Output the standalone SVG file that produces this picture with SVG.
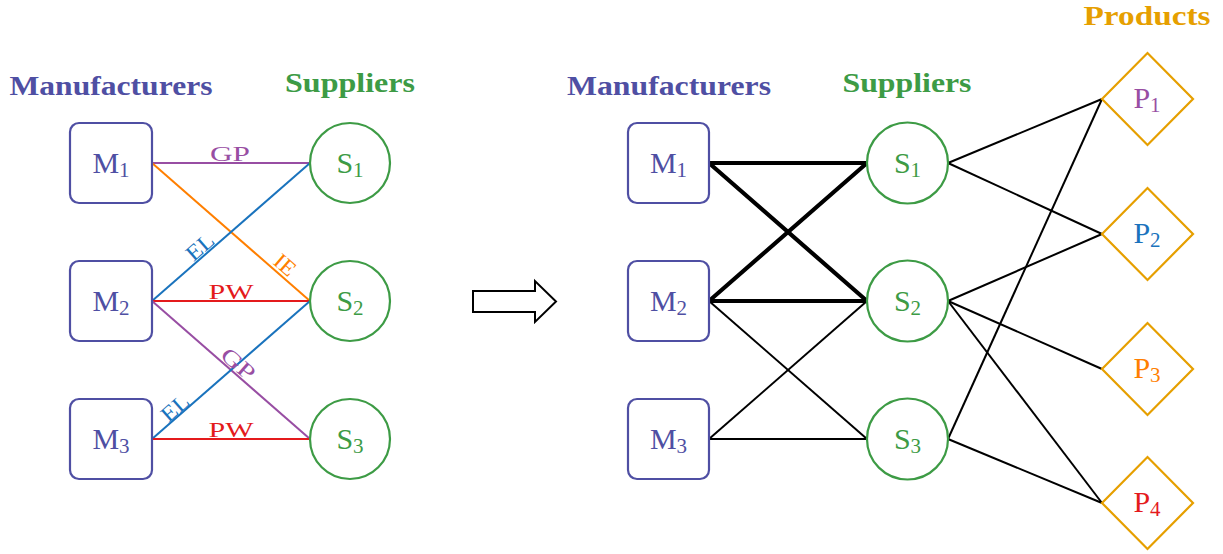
<svg xmlns="http://www.w3.org/2000/svg" width="1223" height="554" viewBox="0 0 1223 554">
  <style>
    text { font-family: "Liberation Serif", "Times New Roman", serif; }
    .hdr { font-weight: bold; font-size: 27px; text-anchor: middle; }
    .lbl { font-size: 30px; text-anchor: middle; }
    .sub { font-size: 21px; }
    .elab { font-size: 22px; text-anchor: middle; }
    .man { fill: #4f4fa3; }
    .sup { fill: #3d9b45; }
    .prd { fill: #e69f00; }
    .mbox { fill: #ffffff; stroke: #4f4fa3; stroke-width: 2.2; }
    .scirc { fill: #ffffff; stroke: #3d9b45; stroke-width: 2.2; }
    .pdia { fill: #ffffff; stroke: #e69f00; stroke-width: 2.2; }
    .c-purple { stroke: #984ea3; }
    .c-orange { stroke: #ff7f00; }
    .c-blue { stroke: #1a73bd; }
    .c-red { stroke: #e41a1c; }
    .t-purple { fill: #984ea3; }
    .t-orange { fill: #ff7f00; }
    .t-blue { fill: #1a73bd; }
    .t-red { fill: #e41a1c; }
    .col line { stroke-width: 2; fill: none; }
    .thick { stroke: #000000; stroke-width: 4.2; stroke-linecap: round; }
    .thin { stroke: #000000; stroke-width: 2; }
  </style>

  <!-- column headers -->
  <g id="headers">
    <text class="hdr man" x="111" y="95" textLength="203" lengthAdjust="spacingAndGlyphs">Manufacturers</text>
    <text class="hdr sup" x="350" y="92" textLength="130" lengthAdjust="spacingAndGlyphs">Suppliers</text>
    <text class="hdr man" x="669" y="95" textLength="204" lengthAdjust="spacingAndGlyphs">Manufacturers</text>
    <text class="hdr sup" x="907" y="92" textLength="129" lengthAdjust="spacingAndGlyphs">Suppliers</text>
    <text class="hdr prd" x="1147" y="25" textLength="127" lengthAdjust="spacingAndGlyphs">Products</text>
  </g>

  <!-- connectors -->
  <g id="connectors">
    <!-- left network: coloured, labelled links -->
    <g class="col">
      <line class="c-purple" x1="152" y1="163" x2="310" y2="163"/>
      <line class="c-orange" x1="152" y1="163" x2="310" y2="301"/>
      <line class="c-blue" x1="152" y1="301" x2="310" y2="163"/>
      <line class="c-red" x1="152" y1="301" x2="310" y2="301"/>
      <line class="c-purple" x1="152" y1="301" x2="310" y2="439"/>
      <line class="c-blue" x1="152" y1="439" x2="310" y2="301"/>
      <line class="c-red" x1="152" y1="439" x2="310" y2="439"/>
    </g>
    <g id="edge-labels">
      <text class="elab t-purple" x="230" y="161" textLength="40" lengthAdjust="spacingAndGlyphs">GP</text>
      <text class="elab t-red" x="231" y="299" textLength="45" lengthAdjust="spacingAndGlyphs">PW</text>
      <text class="elab t-red" x="231" y="437" textLength="45" lengthAdjust="spacingAndGlyphs">PW</text>
      <text class="elab t-blue" transform="translate(206,254) rotate(-41.1)" x="0" y="-2" textLength="30" lengthAdjust="spacingAndGlyphs">EL</text>
      <text class="elab t-orange" transform="translate(279,272) rotate(41.1)" x="0" y="-2" textLength="22" lengthAdjust="spacingAndGlyphs">IE</text>
      <text class="elab t-purple" transform="translate(232,371) rotate(41.1)" x="0" y="-2" textLength="38" lengthAdjust="spacingAndGlyphs">GP</text>
      <text class="elab t-blue" transform="translate(181,415) rotate(-41.1)" x="0" y="-2" textLength="30" lengthAdjust="spacingAndGlyphs">EL</text>
    </g>

    <!-- right network: manufacturers to suppliers -->
    <line class="thick" x1="709" y1="163" x2="867" y2="163"/>
    <line class="thick" x1="709" y1="163" x2="867" y2="301"/>
    <line class="thick" x1="709" y1="301" x2="867" y2="163"/>
    <line class="thick" x1="709" y1="301" x2="867" y2="301"/>
    <line class="thin" x1="709" y1="301" x2="867" y2="439"/>
    <line class="thin" x1="709" y1="439" x2="867" y2="301"/>
    <line class="thin" x1="709" y1="439" x2="867" y2="439"/>

    <!-- right network: suppliers to products -->
    <line class="thin" x1="948" y1="163" x2="1102" y2="99"/>
    <line class="thin" x1="948" y1="163" x2="1102" y2="234"/>
    <line class="thin" x1="948" y1="301" x2="1102" y2="234"/>
    <line class="thin" x1="948" y1="301" x2="1102" y2="369"/>
    <line class="thin" x1="948" y1="301" x2="1102" y2="503"/>
    <line class="thin" x1="948" y1="439" x2="1102" y2="99"/>
    <line class="thin" x1="948" y1="439" x2="1102" y2="503"/>
  </g>

  <!-- transition arrow -->
  <g id="arrow">
    <polygon points="473,291 535,291 535,281 556,301.5 535,322 535,312 473,312" fill="#ffffff" stroke="#000000" stroke-width="2" stroke-linejoin="miter"/>
  </g>

  <!-- left manufacturers -->
  <g id="L-M1"><rect class="mbox" x="70" y="123" width="82" height="80" rx="9"/><text class="lbl man" x="111" y="173">M<tspan class="sub" dy="4">1</tspan></text></g>
  <g id="L-M2"><rect class="mbox" x="70" y="261" width="82" height="80" rx="9"/><text class="lbl man" x="111" y="311">M<tspan class="sub" dy="4">2</tspan></text></g>
  <g id="L-M3"><rect class="mbox" x="70" y="399" width="82" height="80" rx="9"/><text class="lbl man" x="111" y="449">M<tspan class="sub" dy="4">3</tspan></text></g>

  <!-- left suppliers -->
  <g id="L-S1"><circle class="scirc" cx="350" cy="163" r="40"/><text class="lbl sup" x="350" y="173">S<tspan class="sub" dy="4">1</tspan></text></g>
  <g id="L-S2"><circle class="scirc" cx="350" cy="301" r="40"/><text class="lbl sup" x="350" y="311">S<tspan class="sub" dy="4">2</tspan></text></g>
  <g id="L-S3"><circle class="scirc" cx="350" cy="439" r="40"/><text class="lbl sup" x="350" y="449">S<tspan class="sub" dy="4">3</tspan></text></g>

  <!-- right manufacturers -->
  <g id="R-M1"><rect class="mbox" x="628" y="123" width="81" height="80" rx="9"/><text class="lbl man" x="668.5" y="173">M<tspan class="sub" dy="4">1</tspan></text></g>
  <g id="R-M2"><rect class="mbox" x="628" y="261" width="81" height="80" rx="9"/><text class="lbl man" x="668.5" y="311">M<tspan class="sub" dy="4">2</tspan></text></g>
  <g id="R-M3"><rect class="mbox" x="628" y="399" width="81" height="80" rx="9"/><text class="lbl man" x="668.5" y="449">M<tspan class="sub" dy="4">3</tspan></text></g>

  <!-- right suppliers -->
  <g id="R-S1"><circle class="scirc" cx="907.5" cy="163" r="40.5"/><text class="lbl sup" x="907.5" y="173">S<tspan class="sub" dy="4">1</tspan></text></g>
  <g id="R-S2"><circle class="scirc" cx="907.5" cy="301" r="40.5"/><text class="lbl sup" x="907.5" y="311">S<tspan class="sub" dy="4">2</tspan></text></g>
  <g id="R-S3"><circle class="scirc" cx="907.5" cy="439" r="40.5"/><text class="lbl sup" x="907.5" y="449">S<tspan class="sub" dy="4">3</tspan></text></g>

  <!-- products -->
  <g id="P1"><polygon class="pdia" points="1102,99 1147.5,53 1193,99 1147.5,145"/><text class="lbl t-purple" x="1147" y="108">P<tspan class="sub" dy="4">1</tspan></text></g>
  <g id="P2"><polygon class="pdia" points="1102,234 1147.5,188 1193,234 1147.5,280"/><text class="lbl t-blue" x="1147" y="243">P<tspan class="sub" dy="4">2</tspan></text></g>
  <g id="P3"><polygon class="pdia" points="1102,369 1147.5,323 1193,369 1147.5,415"/><text class="lbl t-orange" x="1147" y="378">P<tspan class="sub" dy="4">3</tspan></text></g>
  <g id="P4"><polygon class="pdia" points="1102,503 1147.5,457 1193,503 1147.5,549"/><text class="lbl t-red" x="1147" y="512">P<tspan class="sub" dy="4">4</tspan></text></g>
</svg>
